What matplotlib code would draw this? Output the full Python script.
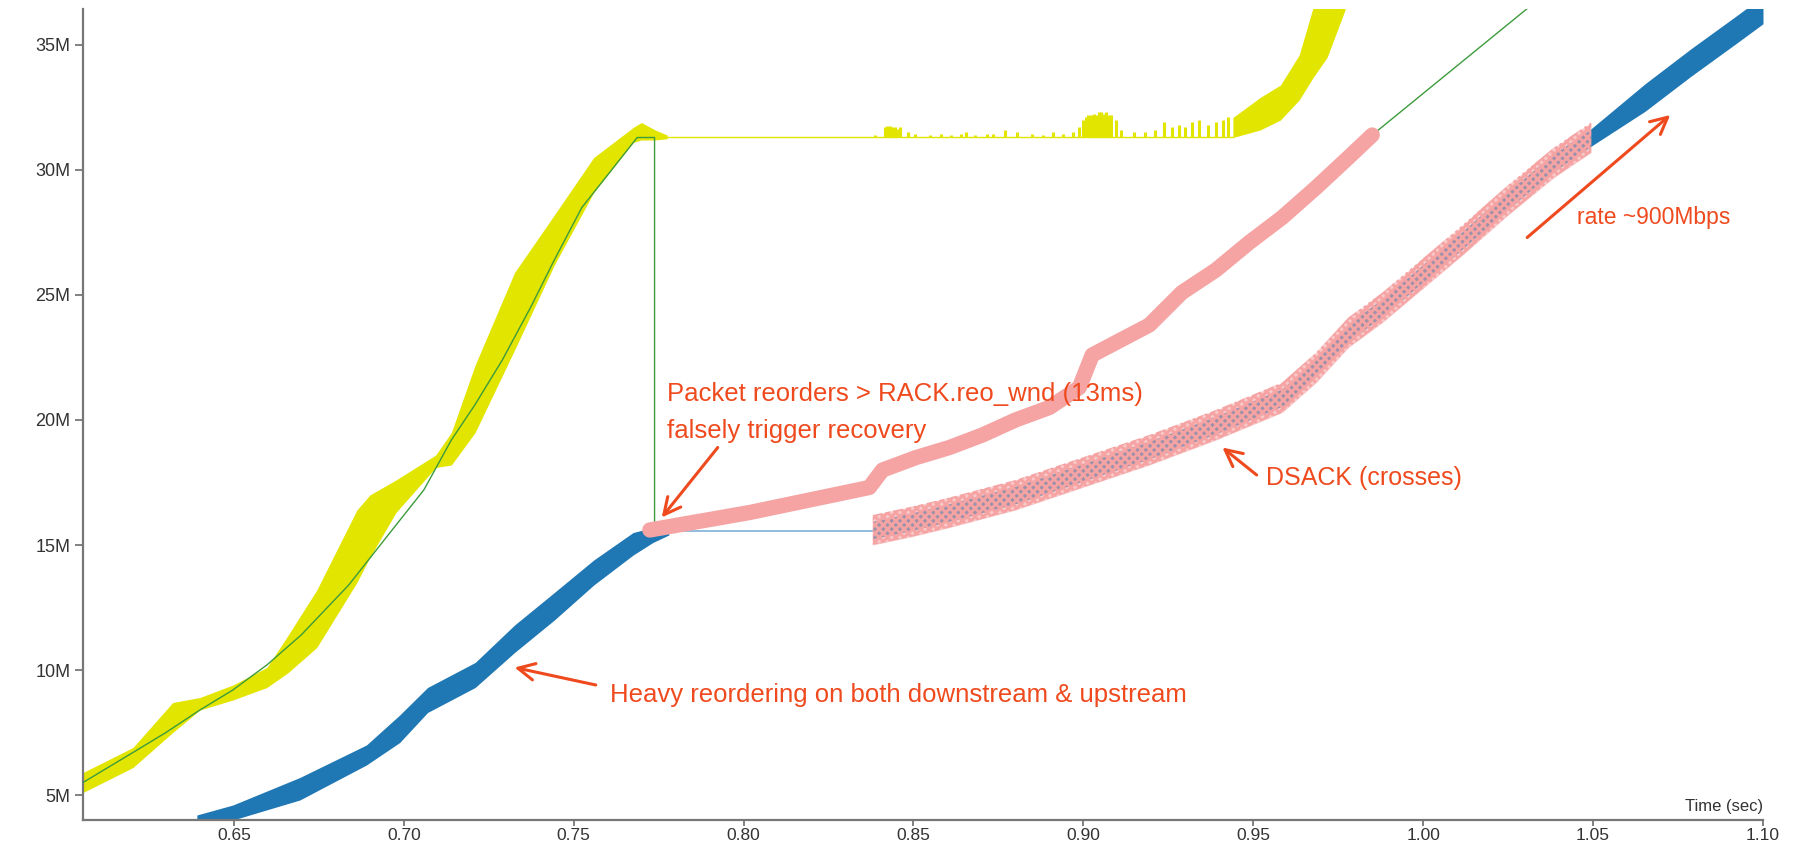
import numpy as np
import matplotlib.pyplot as plt
from matplotlib.ticker import FuncFormatter, MultipleLocator

plt.rcParams['font.family'] = ['Liberation Sans', 'DejaVu Sans']
plt.rcParams['hatch.linewidth'] = 2.0

# data (time in sec, sequence in MB) -------------------------
# receive window band (yellow)
yel_t = [0.6056, 0.6203, 0.632, 0.640, 0.6497, 0.6597, 0.6660, 0.6744, 0.6862, 0.6900, 0.6977,
         0.7094, 0.7140, 0.7210, 0.7326, 0.7443, 0.7559, 0.7675, 0.7699, 0.7740, 0.7775]
yel_hi = [5.9, 6.9, 8.7, 8.9, 9.4, 10.1, 11.4, 13.2, 16.4, 17.0, 17.6,
          18.6, 19.5, 22.2, 25.9, 28.2, 30.5, 31.7, 31.9, 31.6, 31.4]
yel_lo = [5.1, 6.1, 7.5, 8.4, 8.8, 9.3, 9.9, 10.9, 13.5, 14.5, 16.3,
          18.1, 18.2, 19.5, 22.8, 26.2, 29.1, 31.1, 31.2, 31.2, 31.25]
yel_flat = 31.3
yel_flat_t = [0.7775, 0.9440]
spike_t = [0.8386, 0.8416, 0.8423, 0.8431, 0.8438, 0.8446, 0.8453, 0.8461, 0.8483, 0.8505,
           0.8550, 0.8580, 0.8610, 0.8640, 0.8655, 0.8680, 0.8715, 0.8735, 0.8768, 0.8805,
           0.8850, 0.8880, 0.8910, 0.8940, 0.8970, 0.8986, 0.9000, 0.9008, 0.9015, 0.9022,
           0.9030, 0.9037, 0.9045, 0.9052, 0.9060, 0.9067, 0.9075, 0.9082, 0.9096, 0.9111,
           0.9150, 0.9180, 0.9210, 0.9236, 0.9260, 0.9280, 0.9300, 0.9320, 0.9340, 0.9367,
           0.9390, 0.9410, 0.9425]
spike_top = [31.4, 31.7, 31.75, 31.75, 31.7, 31.7, 31.65, 31.7, 31.5, 31.45,
             31.4, 31.45, 31.4, 31.45, 31.5, 31.4, 31.45, 31.45, 31.6, 31.5,
             31.45, 31.4, 31.5, 31.45, 31.5, 31.7, 32.0, 32.1, 32.2, 32.2,
             32.25, 32.2, 32.3, 32.3, 32.25, 32.3, 32.2, 32.2, 32.0, 31.6,
             31.5, 31.5, 31.6, 31.9, 31.7, 31.8, 31.7, 31.9, 32.0, 31.8,
             31.9, 32.0, 32.1]
yel2_t = [0.9440, 0.9520, 0.9580, 0.9635, 0.9676, 0.9717, 0.9770]
yel2_hi = [32.1, 32.9, 33.4, 34.6, 36.5, 36.5, 36.5]
yel2_lo = [31.3, 31.6, 32.0, 32.8, 33.7, 34.5, 36.4]

# green line (cwnd limit)
green_t = [0.6056, 0.6203, 0.630, 0.640, 0.6497, 0.6597, 0.6698, 0.6838, 0.6954, 0.7059,
           0.7140, 0.7209, 0.7290, 0.7373, 0.7443, 0.7524, 0.7594, 0.7687, 0.7738, 0.7738]
green_M = [5.5, 6.7, 7.5, 8.4, 9.2, 10.2, 11.4, 13.4, 15.4, 17.2,
           19.2, 20.6, 22.4, 24.5, 26.4, 28.5, 29.7, 31.3, 31.3, 15.6]
green_end = (1.031, 36.5)

# data sent (blue)
blue_t = [0.6391, 0.6497, 0.6694, 0.6890, 0.6988, 0.7070, 0.7210, 0.7326, 0.7443, 0.7559,
          0.7675, 0.7733, 0.7780]
blue_hi = [4.2, 4.6, 5.7, 7.0, 8.2, 9.3, 10.3, 11.8, 13.1, 14.4, 15.5, 15.7, 15.7]
blue_lo = [3.9, 4.0, 4.8, 6.2, 7.1, 8.3, 9.3, 10.7, 12.0, 13.4, 14.6, 15.1, 15.4]
blue_flat = 15.55
blue_flat_t = [0.7760, 0.8380]
blue2_t = [0.8380, 0.8500, 0.8606, 0.8800, 0.8997, 0.9194, 0.9390, 0.9585, 0.9685, 0.9780,
           0.9880, 0.9985, 1.0116, 1.0250, 1.0385, 1.0494, 1.0653, 1.0788, 1.0920, 1.1000]
blue2_M = [15.6, 15.95, 16.3, 17.0, 17.9, 18.8, 19.8, 20.9, 22.1, 23.5,
           24.5, 25.7, 27.2, 28.8, 30.3, 31.3, 32.9, 34.3, 35.6, 36.4]
dsack_end = 1.052

# retransmissions (pink)
pink_t = [0.7724, 0.8018, 0.8370, 0.8409, 0.8508, 0.8606, 0.8703, 0.8800, 0.8900, 0.8988,
          0.9026, 0.9096, 0.9194, 0.9290, 0.9390, 0.9488, 0.9585, 0.9685, 0.9780, 0.9850]
pink_M = [15.6, 16.3, 17.3, 18.0, 18.5, 18.9, 19.4, 20.0, 20.5, 21.3,
          22.6, 23.1, 23.8, 25.1, 26.0, 27.1, 28.1, 29.3, 30.5, 31.4]

YEL = '#e2e500'
GRN = '#3c9b3c'
BLU = '#1f77b4'
PNK = '#f5a3a3'
RED = '#ef4a1e'

fig = plt.figure(figsize=(18.14, 8.46), dpi=100)
ax = fig.add_axes([83 / 1814, 26 / 846, 1680 / 1814, 811 / 846])

# yellow
ax.fill_between(yel_t, yel_lo, yel_hi, color=YEL, lw=0, zorder=1)
ax.plot(yel_flat_t, [yel_flat, yel_flat], color=YEL, lw=1.0, zorder=1)
ax.vlines(spike_t, yel_flat, spike_top, color=YEL, lw=2.2, zorder=1)
ax.fill_between(yel2_t, yel2_lo, yel2_hi, color=YEL, lw=0, zorder=1)

# blue
ax.fill_between(blue_t, blue_lo, blue_hi, color=BLU, lw=0, zorder=2)
ax.plot(blue_flat_t, [blue_flat, blue_flat], color='#7fb2d8', lw=1.2, zorder=2)
b2t = np.array(blue2_t)
b2m = np.array(blue2_M)
hw = np.where(b2t > dsack_end, 0.55, 0.35)
ax.fill_between(b2t, b2m - hw, b2m + hw, color=BLU, lw=0, zorder=2)

# DSACK crosses
m = b2t <= dsack_end + 0.001
ax.fill_between(b2t[m], b2m[m] - 0.6, b2m[m] + 0.6, color=PNK, alpha=0.6, lw=0, zorder=3)
ax.fill_between(b2t[m], b2m[m] - 0.6, b2m[m] + 0.6, facecolor='none',
                edgecolor=PNK, hatch='xxxx', lw=0, zorder=3)

# green line
gx = list(green_t) + list(pink_t) + [green_end[0]]
gy = list(green_M) + list(pink_M) + [green_end[1]]
ax.plot(gx, gy, color=GRN, lw=1.0, zorder=4)

# pink retransmissions
ax.plot(pink_t, pink_M, color=PNK, lw=11, solid_capstyle='round', zorder=5)

# annotations
ann = dict(arrowstyle='->', color=RED, lw=2.2, mutation_scale=30, shrinkA=0, shrinkB=0)
ax.annotate('', xy=(0.7759, 16.1), xytext=(0.7924, 18.9), arrowprops=ann, zorder=6)
ax.text(0.7774, 21.05, 'Packet reorders > RACK.reo_wnd (13ms)', color=RED, fontsize=18.5,
        va='center', zorder=6)
ax.text(0.7774, 19.55, 'falsely trigger recovery', color=RED, fontsize=18.5, va='center', zorder=6)

ax.annotate('', xy=(0.7326, 10.1), xytext=(0.7565, 9.4), arrowprops=ann, zorder=6)
ax.text(0.7606, 9.0, 'Heavy reordering on both downstream & upstream', color=RED,
        fontsize=18.5, va='center', zorder=6)

ax.annotate('', xy=(0.9409, 18.9), xytext=(0.951, 17.8), arrowprops=ann, zorder=6)
ax.text(0.9538, 17.7, 'DSACK (crosses)', color=RED, fontsize=18, va='center', zorder=6)

ax.annotate('', xy=(1.0727, 32.2), xytext=(1.0306, 27.3), arrowprops=ann, zorder=6)
ax.text(1.0453, 28.1, 'rate ~900Mbps', color=RED, fontsize=16.5, va='center', zorder=6)

# axes
ax.set_xlim(0.6056, 1.100)
ax.set_ylim(4.0, 4.0 + 811 / 25)
ax.xaxis.set_major_locator(MultipleLocator(0.05))
ax.xaxis.set_major_formatter(FuncFormatter(lambda v, p: '%.2f' % v))
ax.yaxis.set_major_locator(MultipleLocator(5))
ax.yaxis.set_major_formatter(FuncFormatter(lambda v, p: '%dM' % round(v)))
for s in ['top', 'right']:
    ax.spines[s].set_visible(False)
for s in ['left', 'bottom']:
    ax.spines[s].set_color('#777777')
    ax.spines[s].set_linewidth(1.6)
ax.tick_params(colors='#777777', labelcolor='#333333', labelsize=13, length=6, width=1.3)
ax.tick_params(axis='y', pad=3)
ax.tick_params(axis='x', labelsize=12.5, length=4, pad=1.5)
ax.text(1.0, 0.017, 'Time (sec)', transform=ax.transAxes, ha='right', va='center',
        fontsize=12, color='#333333')

plt.savefig('out.png', dpi=100)
